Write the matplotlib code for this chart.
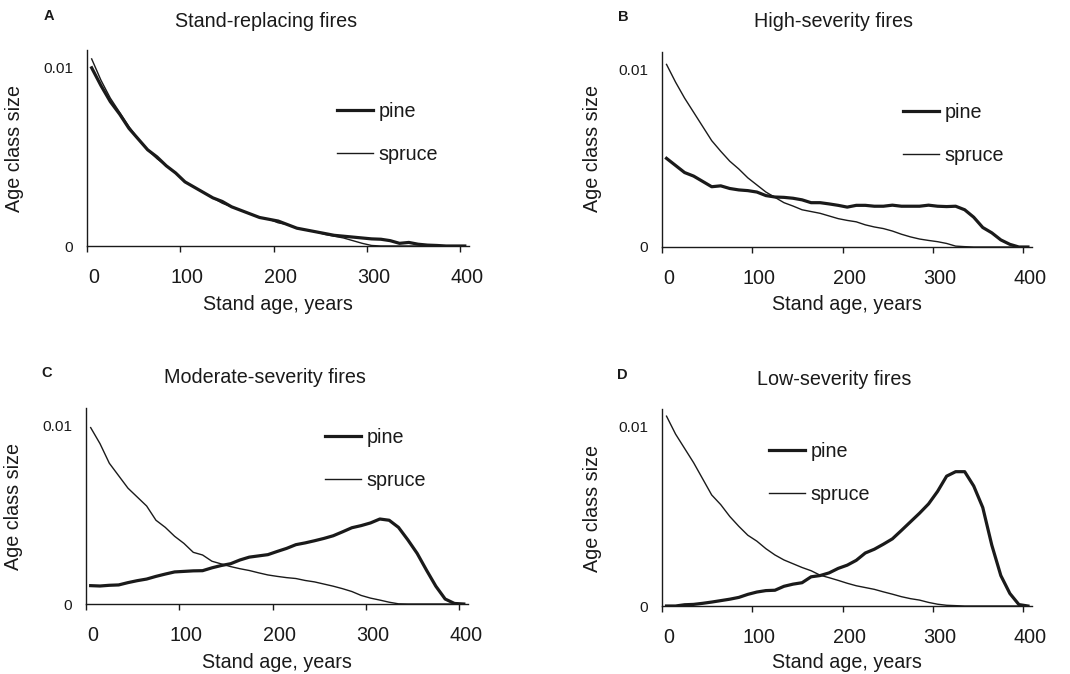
import matplotlib
matplotlib.use("Agg")
import matplotlib.pyplot as plt
from matplotlib.transforms import ScaledTranslation

# Stand age classes (10-year classes, midpoints)
AGES = list(range(5, 406, 10))

SERIES_NAMES = ["pine", "spruce"]
PANEL_LETTERS = ["A", "B", "C", "D"]
TITLES = ["Stand-replacing fires", "High-severity fires",
          "Moderate-severity fires", "Low-severity fires"]
X_TICKS = [0, 100, 200, 300, 400]
Y_TICKS = [0, 0.01]
Y_TICK_LABELS = ["0", "0.01"]

# Age class size distributions
A_PINE = [0.0100, 0.0090, 0.0081, 0.0074, 0.0066, 0.0060, 0.0054, 0.0050, 0.0045, 0.0041,
          0.0036, 0.0033, 0.0030, 0.0027, 0.0025, 0.0022, 0.0020, 0.0018, 0.0016, 0.0015,
          0.0014, 0.0012, 0.0010, 0.0009, 0.0008, 0.0007, 0.0006, 0.00055, 0.0005, 0.00045,
          0.0004, 0.00038, 0.0003, 0.00015, 0.0002, 0.0001, 0.00005, 0.00003, 0.0, 0.0, 0.0]
A_SPRUCE = [0.0105, 0.0093, 0.0083, 0.0075, 0.0067, 0.0060, 0.0054, 0.0049, 0.0045, 0.0041,
            0.0036, 0.0033, 0.0030, 0.0027, 0.0024, 0.0022, 0.0020, 0.0018, 0.0016, 0.0015,
            0.0013, 0.0012, 0.0010, 0.0009, 0.0008, 0.00065, 0.00055, 0.00045, 0.0003, 0.00015,
            0.00003, 0.0, 0.0, 0.0, 0.0, 0.0, 0.0, 0.0, 0.0, 0.0, 0.0]

B_PINE = [0.0050, 0.0046, 0.0042, 0.0040, 0.0037, 0.0034, 0.00345, 0.0033, 0.00322, 0.00318,
          0.0031, 0.0029, 0.00282, 0.0028, 0.00275, 0.00266, 0.0025, 0.0025, 0.00243, 0.00235,
          0.00225, 0.00235, 0.00235, 0.0023, 0.0023, 0.00236, 0.0023, 0.0023, 0.0023, 0.00236,
          0.0023, 0.00228, 0.0023, 0.0021, 0.00168, 0.0011, 0.0008, 0.0004, 0.00015, 0.0, 0.0]
B_SPRUCE = [0.0103, 0.0093, 0.0084, 0.0076, 0.0068, 0.0060, 0.0054, 0.00484, 0.0044, 0.0039,
            0.0035, 0.0031, 0.0028, 0.0025, 0.00231, 0.0021, 0.0020, 0.0019, 0.00175, 0.0016,
            0.0015, 0.00142, 0.00125, 0.00113, 0.00104, 0.0009, 0.00072, 0.00057, 0.00045, 0.00037,
            0.0003, 0.0002, 0.00005, 0.00002, 0.0, 0.0, 0.0, 0.0, 0.0, 0.0, 0.0]

C_PINE = [0.00103, 0.00101, 0.00105, 0.00107, 0.0012, 0.00131, 0.0014, 0.00155, 0.00168, 0.0018,
          0.00183, 0.00186, 0.00187, 0.00203, 0.00216, 0.00226, 0.00247, 0.00263, 0.0027, 0.00277,
          0.00295, 0.00312, 0.00333, 0.00343, 0.00355, 0.00368, 0.00383, 0.00405, 0.00428, 0.0044,
          0.00455, 0.00477, 0.0047, 0.0043, 0.0036, 0.00284, 0.0019, 0.001, 0.00028, 0.00003, 0.0]
C_SPRUCE = [0.0099, 0.0090, 0.0079, 0.0072, 0.0065, 0.0060, 0.0055, 0.0047, 0.0043, 0.0038,
            0.0034, 0.0029, 0.00275, 0.0024, 0.00225, 0.0021, 0.00198, 0.00188, 0.00175, 0.00163,
            0.00155, 0.00148, 0.00143, 0.00132, 0.00124, 0.00112, 0.001, 0.00086, 0.0007, 0.00048,
            0.00033, 0.00022, 0.0001, 0.00001, 0.0, 0.0, 0.0, 0.0, 0.0, 0.0, 0.0]

D_PINE = [0.0, 0.0, 0.00007, 0.00009, 0.00015, 0.00022, 0.0003, 0.00038, 0.00048, 0.00065,
          0.00078, 0.00086, 0.00088, 0.0011, 0.00122, 0.0013, 0.00163, 0.0017, 0.00185, 0.0021,
          0.00228, 0.00255, 0.00296, 0.00317, 0.00345, 0.00375, 0.00422, 0.0047, 0.00518, 0.0057,
          0.0064, 0.00725, 0.0075, 0.0075, 0.0067, 0.0055, 0.0034, 0.0017, 0.0007, 0.00008, 0.0]
D_SPRUCE = [0.0106, 0.0096, 0.0088, 0.0080, 0.0071, 0.0062, 0.00566, 0.0050, 0.00445, 0.00395,
            0.00362, 0.0032, 0.00285, 0.00257, 0.00236, 0.00215, 0.00197, 0.00172, 0.00158, 0.00143,
            0.00127, 0.00113, 0.00103, 0.00093, 0.00079, 0.00066, 0.00052, 0.00041, 0.00033, 0.0002,
            0.0001, 0.00004, 0.00002, 0.0, 0.0, 0.0, 0.0, 0.0, 0.0, 0.0, 0.0]

PANEL_DATA = [(A_PINE, A_SPRUCE), (B_PINE, B_SPRUCE), (C_PINE, C_SPRUCE), (D_PINE, D_SPRUCE)]

W, H = 1070, 674
INK = "#1a1a1a"
FS = 14.2

plt.rcParams["font.family"] = ["Liberation Sans", "DejaVu Sans"]
plt.rcParams["text.color"] = INK

fig = plt.figure(figsize=(W / 100, H / 100), dpi=100)
fig.patch.set_facecolor("white")

# pixel layout of each panel: axes box (l, t, r, b), title centre/baseline,
# panel letter centre, y-label centre, x-label centre y, legend top-left
LAYOUT = [
    dict(rect=(87, 50, 469, 246), title=(266, 27), letter=(49, 16), ylab=(15, 148), xlab_y=304, leg=(337, 102)),
    dict(rect=(662, 52, 1032, 247), title=(834, 27), letter=(623, 17), ylab=(593, 148), xlab_y=305, leg=(903, 103)),
    dict(rect=(86, 408, 468, 604), title=(265, 383), letter=(47, 373), ylab=(14, 507), xlab_y=663, leg=(325, 428)),
    dict(rect=(662, 409, 1032, 606), title=(834, 385), letter=(622, 375), ylab=(593, 508), xlab_y=663, leg=(769, 442)),
]

label_shift = ScaledTranslation(6.5 / 100, 0, fig.dpi_scale_trans)

for i, lay in enumerate(LAYOUT):
    l, t, r, b = lay["rect"]
    ax = fig.add_axes([l / W, 1 - b / H, (r - l) / W, (b - t) / H])
    pine, spruce = PANEL_DATA[i]
    ax.plot(AGES, pine, color=INK, lw=2.3, solid_joinstyle="round", label=SERIES_NAMES[0])
    ax.plot(AGES, spruce, color=INK, lw=1.0, label=SERIES_NAMES[1])

    ax.set_xlim(0, 409.5)
    ax.set_ylim(0, 0.011)
    for side in ("top", "right"):
        ax.spines[side].set_visible(False)
    for side in ("left", "bottom"):
        ax.spines[side].set_linewidth(1.0)
        ax.spines[side].set_color(INK)

    ax.set_xticks(X_TICKS)
    ax.set_xticklabels([str(v) for v in X_TICKS])
    ax.tick_params(axis="x", direction="out", length=4, width=1.0, color=INK,
                   pad=12, labelsize=FS, labelcolor=INK)
    for lab in ax.get_xticklabels():
        lab.set_transform(lab.get_transform() + label_shift)

    ax.set_yticks(Y_TICKS)
    ax.set_yticklabels(Y_TICK_LABELS)
    ax.tick_params(axis="y", length=0, pad=10, labelsize=11.1, labelcolor=INK)

    ax.legend(loc="upper left", bbox_to_anchor=(lay["leg"][0] / W, 1 - lay["leg"][1] / H),
              bbox_transform=fig.transFigure, frameon=False, borderpad=0, borderaxespad=0,
              handlelength=1.8, handletextpad=0.3, labelspacing=1.23, fontsize=FS)

    fig.text(lay["title"][0] / W, 1 - lay["title"][1] / H, TITLES[i], ha="center",
             va="baseline", fontsize=FS)
    fig.text(lay["letter"][0] / W, 1 - lay["letter"][1] / H, PANEL_LETTERS[i], ha="center",
             va="center", fontsize=10.5, fontweight="bold")
    fig.text(lay["ylab"][0] / W, 1 - lay["ylab"][1] / H, "Age class size", ha="center",
             va="center", rotation=90, fontsize=FS)
    fig.text((l + r) / 2 / W, 1 - lay["xlab_y"] / H, "Stand age, years", ha="center",
             va="center", fontsize=FS)

fig.savefig("out.png", dpi=100, facecolor="white")
